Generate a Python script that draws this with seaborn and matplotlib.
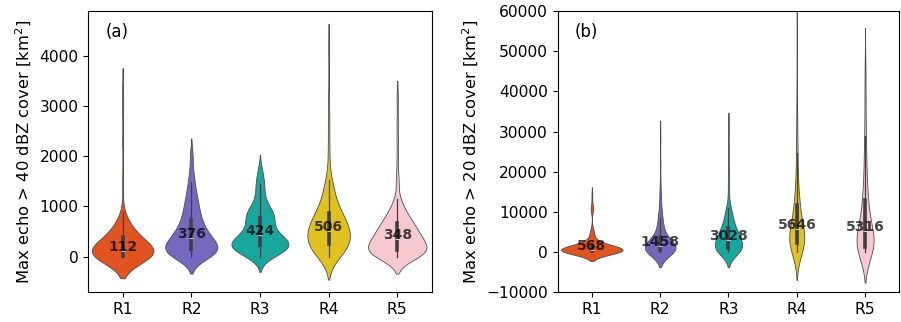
import numpy as np
import pandas as pd
import matplotlib
matplotlib.use("Agg")
import matplotlib.pyplot as plt
import seaborn as sns

regions = ["R1", "R2", "R3", "R4", "R5"]
colors = ["orangered", "slateblue", "#00BFB4", "gold", "pink"]

# ---- panel (a): max echo > 40 dBZ cover [km2]  (values, counts) ----
a_R1_vals = [0, 20, 50, 80, 112, 160, 220, 300, 390, 480, 580, 700, 886, 1500, 2300, 2900, 3330]
a_R1_counts = [18, 8, 8, 10, 10, 8, 7, 5, 7, 6, 5, 3, 1, 1, 1, 1, 1]
a_R2_vals = [0, 50, 100, 150, 200, 260, 320, 376, 450, 530, 620, 726, 850, 1000, 1150, 1300, 1480, 1700, 2020]
a_R2_counts = [8, 7, 8, 8, 7, 6, 5, 6, 6, 5, 5, 5, 5, 5, 4, 3, 3, 2, 2]
a_R3_vals = [0, 60, 120, 180, 226, 280, 340, 424, 500, 580, 660, 773, 870, 980, 1100, 1250, 1450, 1600, 1720]
a_R3_counts = [4, 5, 7, 8, 8, 9, 8, 6, 5, 4, 4, 8, 7, 4, 3, 3, 4, 1, 2]
a_R4_vals = [0, 80, 160, 260, 340, 420, 506, 600, 700, 780, 860, 980, 1120, 1280, 1400, 1526, 1850, 2100, 2450, 2800, 3200, 4186]
a_R4_counts = [6, 6, 7, 8, 8, 8, 9, 7, 7, 5, 6, 5, 4, 3, 3, 2, 1, 1, 1, 1, 1, 1]
a_R5_vals = [0, 50, 100, 140, 200, 270, 348, 420, 500, 580, 660, 760, 880, 1000, 1140, 1500, 1900, 2300, 2700, 3166]
a_R5_counts = [9, 8, 8, 7, 7, 7, 8, 7, 7, 5, 6, 6, 4, 3, 2, 2, 1, 1, 1, 1]
a_medians = [112, 376, 424, 506, 348]

# ---- panel (b): max echo > 20 dBZ cover [km2]  (values, counts) ----
b_R1_vals = [0, 150, 300, 450, 568, 700, 850, 1000, 1200, 1500, 1900, 2400, 3200, 4200, 5300, 10800, 14000]
b_R1_counts = [10, 11, 11, 12, 8, 8, 6, 5, 5, 5, 4, 4, 2, 2, 3, 3, 1]
b_R2_vals = [0, 300, 600, 900, 1200, 1458, 1800, 2300, 3000, 3800, 4800, 6000, 7200, 8400, 9800, 12000, 14500, 17000, 22000, 29000]
b_R2_counts = [10, 10, 10, 8, 8, 8, 6, 6, 5, 5, 4, 4, 3, 3, 3, 2, 2, 1, 1, 1]
b_R3_vals = [0, 400, 800, 1000, 1600, 2300, 3028, 3700, 4400, 5200, 6000, 7200, 8500, 10000, 11000, 15000, 19000, 25000, 31000]
b_R3_counts = [8, 8, 8, 6, 7, 7, 8, 7, 6, 6, 6, 5, 5, 4, 3, 2, 2, 1, 1]
b_R4_vals = [0, 800, 1600, 2240, 3000, 3900, 4800, 5646, 6800, 8000, 9500, 11780, 14000, 17000, 20000, 24660, 28000, 32000, 38000, 45000, 52000, 62000]
b_R4_counts = [5, 6, 7, 8, 8, 8, 7, 5, 6, 5, 5, 7, 4, 4, 3, 3, 2, 2, 2, 1, 1, 1]
b_R5_vals = [0, 700, 1400, 2300, 3200, 4200, 5316, 6500, 8000, 9500, 11000, 12860, 15500, 18500, 22000, 25500, 28800, 33000, 38000, 43000, 48230]
b_R5_counts = [8, 9, 9, 8, 8, 7, 5, 5, 5, 4, 4, 5, 4, 4, 3, 3, 2, 2, 2, 2, 1]
b_medians = [568, 1458, 3028, 5646, 5316]

# ---- style: kernel bandwidths (data units) and violin widths ----
a_bw = [217, 170, 153, 230, 170]
b_bw = [1083, 1870, 1870, 3450, 3785]
a_width = [0.90, 0.76, 0.83, 0.62, 0.85]
b_width = [0.90, 0.45, 0.40, 0.22, 0.25]


def build(vals, counts):
    frames = [pd.DataFrame({"region": r, "value": np.repeat(v, c)})
              for r, v, c in zip(regions, vals, counts)]
    return pd.concat(frames, ignore_index=True)


df_a = build([a_R1_vals, a_R2_vals, a_R3_vals, a_R4_vals, a_R5_vals],
             [a_R1_counts, a_R2_counts, a_R3_counts, a_R4_counts, a_R5_counts])
df_b = build([b_R1_vals, b_R2_vals, b_R3_vals, b_R4_vals, b_R5_vals],
             [b_R1_counts, b_R2_counts, b_R3_counts, b_R4_counts, b_R5_counts])


def draw(ax, df, bws, widths, medians, ylabel, tag):
    for i, r in enumerate(regions):
        sub = df[df["region"] == r]
        sd = sub["value"].std()
        sns.violinplot(data=sub, x="region", y="value", order=regions, ax=ax,
                       color=colors[i], bw_method=bws[i] / sd, cut=2,
                       density_norm="width", width=widths[i],
                       linewidth=0.6, linecolor="0.3", inner="box",
                       inner_kws=dict(box_width=2.6, whis_width=0.9, color="0.25"))
    for i, m in enumerate(medians):
        ax.text(i, m, str(m), ha="center", va="baseline", fontsize=10,
                fontweight="bold", color="black", alpha=0.72)
    ax.set_xlabel("")
    ax.set_ylabel(ylabel, fontsize=11.8)
    ax.tick_params(labelsize=11.2)
    ax.text(0.05, 0.925, tag, transform=ax.transAxes, ha="left", va="center", fontsize=12)


fig = plt.figure(figsize=(9.01, 3.22), dpi=100)
ax1 = fig.add_axes([0.098, 0.092, 0.381, 0.874])
ax2 = fig.add_axes([0.619, 0.092, 0.379, 0.874])

draw(ax1, df_a, a_bw, a_width, a_medians, "Max echo > 40 dBZ cover [km$^2$]", "(a)")
draw(ax2, df_b, b_bw, b_width, b_medians, "Max echo > 20 dBZ cover [km$^2$]", "(b)")
ax2.set_ylim(-10000, 60000)
ax1.set_xlim(-0.5, 4.5)
ax2.set_xlim(-0.5, 4.5)

fig.savefig("out.png", dpi=100)
